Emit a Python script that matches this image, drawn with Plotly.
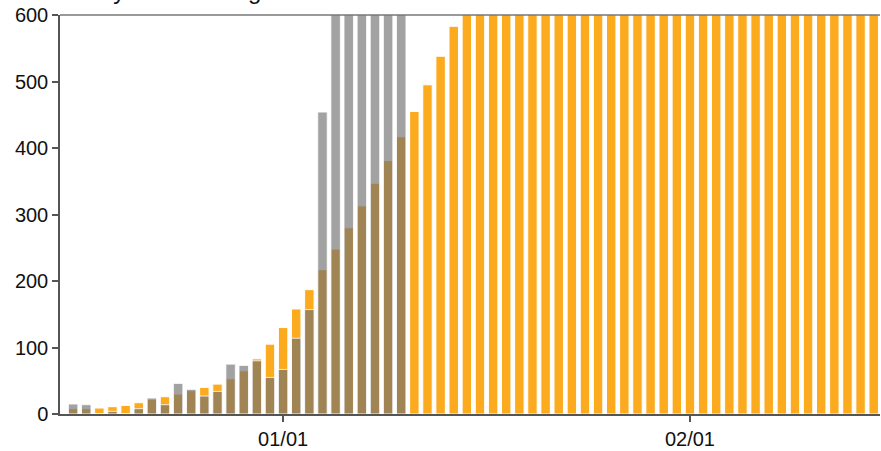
import pandas as pd
import plotly.graph_objects as go

# ---- data ----
start_date = "2021-12-16"
actual_dates = pd.date_range(start_date, "2022-01-10", freq="D")
projected_dates = pd.date_range(start_date, "2022-02-15", freq="D")

actual_cases = [15, 14, 0, 4, 0, 8, 24, 14, 46, 37, 27, 34, 75, 73, 80, 55,
                67, 114, 157, 454, 650, 720, 790, 850, 920, 1000]

projected_cases = [8, 8, 9, 11, 13, 17, 22, 26, 30, 35, 40, 45, 53, 65, 83, 105,
                   130, 158, 187, 217, 248, 280, 313, 347, 381, 417, 455, 495, 538, 583,
                   633, 687, 745, 808, 877, 951, 1032, 1120, 1215, 1318, 1430, 1552,
                   1684, 1827, 1982, 2150, 2333,
                   2531, 2746, 2980, 3233, 3508, 3806, 4130, 4481, 4862, 5275, 5723,
                   6210, 6738, 7310, 7930]

x_tick_vals = ["2022-01-01", "2022-02-01"]
x_tick_text = ["01/01", "02/01"]
y_tick_vals = [0, 100, 200, 300, 400, 500, 600]
title_text = "Daily cases and growth"

# ---- figure ----
fig = go.Figure()
fig.add_trace(go.Bar(
    x=projected_dates, y=projected_cases, name="projected",
    marker=dict(color="rgb(252,170,30)", line=dict(color="white", width=1)),
))
fig.add_trace(go.Bar(
    x=actual_dates, y=actual_cases, name="actual",
    marker=dict(color="rgba(112,112,112,0.65)", line=dict(color="rgba(255,255,255,0.8)", width=1)),
))

font_family = "Liberation Sans, Arial, Helvetica, sans-serif"

fig.update_layout(
    width=881, height=451,
    margin=dict(l=60, r=1, t=15, b=35),
    barmode="overlay", bargap=0.28,
    plot_bgcolor="white", paper_bgcolor="white",
    showlegend=False,
    font=dict(family=font_family, size=20, color="#111"),
    xaxis=dict(
        type="date",
        range=["2021-12-15 00:00", "2022-02-15 11:30"],
        tickvals=x_tick_vals, ticktext=x_tick_text,
        showgrid=False, zeroline=False,
        showline=True, linecolor="#555", linewidth=1.5,
        ticks="outside", ticklen=6, tickwidth=1.5, tickcolor="#555",
        tickfont=dict(size=20, color="#111"),
    ),
    yaxis=dict(
        range=[0, 600], tickvals=y_tick_vals,
        showgrid=False, zeroline=False,
        showline=True, linecolor="#555", linewidth=1.5,
        ticks="outside", ticklen=6, tickwidth=1.5, tickcolor="#555",
        tickfont=dict(size=20, color="#111"),
    ),
    shapes=[dict(type="line", xref="paper", yref="paper", x0=0, x1=1, y0=1, y1=1,
                 line=dict(color="#777", width=1.5))],
    annotations=[dict(text=title_text, xref="paper", yref="paper", x=0, y=1,
                      xanchor="left", yanchor="bottom", xshift=10, yshift=9,
                      showarrow=False, font=dict(size=24, color="#111"))],
)

fig.write_html("out.html", config={"displayModeBar": False},
               post_script="document.body.style.margin='0';")
